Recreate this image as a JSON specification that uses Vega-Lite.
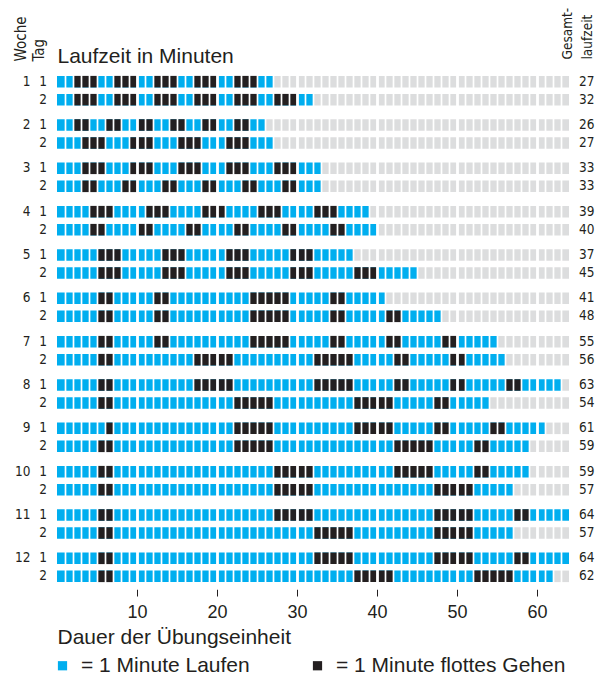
{
  "$schema": "https://vega.github.io/schema/vega-lite/v6.json",
  "width": 512,
  "height": 520,
  "autosize": "none",
  "padding": {"left": 57, "top": 69, "right": 45, "bottom": 111},
  "background": "white",
  "config": {
    "view": {"stroke": null},
    "font": "Liberation Sans",
    "text": {"font": "DejaVu Sans Condensed, Liberation Sans, sans-serif", "color": "#231F20"}
  },
  "datasets": {
    "totals": [
      {"w": 1, "t": 1, "total": 27}, {"w": 1, "t": 2, "total": 32},
      {"w": 2, "t": 1, "total": 26}, {"w": 2, "t": 2, "total": 27},
      {"w": 3, "t": 1, "total": 33}, {"w": 3, "t": 2, "total": 33},
      {"w": 4, "t": 1, "total": 39}, {"w": 4, "t": 2, "total": 40},
      {"w": 5, "t": 1, "total": 37}, {"w": 5, "t": 2, "total": 45},
      {"w": 6, "t": 1, "total": 41}, {"w": 6, "t": 2, "total": 48},
      {"w": 7, "t": 1, "total": 55}, {"w": 7, "t": 2, "total": 56},
      {"w": 8, "t": 1, "total": 63}, {"w": 8, "t": 2, "total": 54},
      {"w": 9, "t": 1, "total": 61}, {"w": 9, "t": 2, "total": 59},
      {"w": 10, "t": 1, "total": 59}, {"w": 10, "t": 2, "total": 57},
      {"w": 11, "t": 1, "total": 64}, {"w": 11, "t": 2, "total": 57},
      {"w": 12, "t": 1, "total": 64}, {"w": 12, "t": 2, "total": 62}
    ],
    "walks": [
      {"w": 1, "t": 1, "s": 2, "e": 5}, {"w": 1, "t": 1, "s": 7, "e": 10}, {"w": 1, "t": 1, "s": 12, "e": 15}, {"w": 1, "t": 1, "s": 17, "e": 20}, {"w": 1, "t": 1, "s": 22, "e": 25},
      {"w": 1, "t": 2, "s": 2, "e": 5}, {"w": 1, "t": 2, "s": 7, "e": 10}, {"w": 1, "t": 2, "s": 12, "e": 15}, {"w": 1, "t": 2, "s": 17, "e": 20}, {"w": 1, "t": 2, "s": 22, "e": 25}, {"w": 1, "t": 2, "s": 27, "e": 30},
      {"w": 2, "t": 1, "s": 2, "e": 4}, {"w": 2, "t": 1, "s": 6, "e": 8}, {"w": 2, "t": 1, "s": 10, "e": 12}, {"w": 2, "t": 1, "s": 14, "e": 16}, {"w": 2, "t": 1, "s": 18, "e": 20}, {"w": 2, "t": 1, "s": 22, "e": 24},
      {"w": 2, "t": 2, "s": 3, "e": 6}, {"w": 2, "t": 2, "s": 9, "e": 12}, {"w": 2, "t": 2, "s": 15, "e": 18}, {"w": 2, "t": 2, "s": 21, "e": 24},
      {"w": 3, "t": 1, "s": 3, "e": 6}, {"w": 3, "t": 1, "s": 9, "e": 12}, {"w": 3, "t": 1, "s": 15, "e": 18}, {"w": 3, "t": 1, "s": 21, "e": 24}, {"w": 3, "t": 1, "s": 27, "e": 30},
      {"w": 3, "t": 2, "s": 3, "e": 5}, {"w": 3, "t": 2, "s": 8, "e": 10}, {"w": 3, "t": 2, "s": 13, "e": 15}, {"w": 3, "t": 2, "s": 18, "e": 20}, {"w": 3, "t": 2, "s": 23, "e": 25}, {"w": 3, "t": 2, "s": 28, "e": 30},
      {"w": 4, "t": 1, "s": 4, "e": 7}, {"w": 4, "t": 1, "s": 11, "e": 14}, {"w": 4, "t": 1, "s": 18, "e": 21}, {"w": 4, "t": 1, "s": 25, "e": 28}, {"w": 4, "t": 1, "s": 32, "e": 35},
      {"w": 4, "t": 2, "s": 4, "e": 6}, {"w": 4, "t": 2, "s": 10, "e": 12}, {"w": 4, "t": 2, "s": 16, "e": 18}, {"w": 4, "t": 2, "s": 22, "e": 24}, {"w": 4, "t": 2, "s": 28, "e": 30}, {"w": 4, "t": 2, "s": 34, "e": 36},
      {"w": 5, "t": 1, "s": 5, "e": 8}, {"w": 5, "t": 1, "s": 13, "e": 16}, {"w": 5, "t": 1, "s": 21, "e": 24}, {"w": 5, "t": 1, "s": 29, "e": 32},
      {"w": 5, "t": 2, "s": 5, "e": 8}, {"w": 5, "t": 2, "s": 13, "e": 16}, {"w": 5, "t": 2, "s": 21, "e": 24}, {"w": 5, "t": 2, "s": 29, "e": 32}, {"w": 5, "t": 2, "s": 37, "e": 40},
      {"w": 6, "t": 1, "s": 5, "e": 7}, {"w": 6, "t": 1, "s": 12, "e": 14}, {"w": 6, "t": 1, "s": 24, "e": 29}, {"w": 6, "t": 1, "s": 34, "e": 36},
      {"w": 6, "t": 2, "s": 5, "e": 7}, {"w": 6, "t": 2, "s": 12, "e": 14}, {"w": 6, "t": 2, "s": 24, "e": 29}, {"w": 6, "t": 2, "s": 34, "e": 36}, {"w": 6, "t": 2, "s": 41, "e": 43},
      {"w": 7, "t": 1, "s": 5, "e": 7}, {"w": 7, "t": 1, "s": 12, "e": 14}, {"w": 7, "t": 1, "s": 24, "e": 29}, {"w": 7, "t": 1, "s": 34, "e": 36}, {"w": 7, "t": 1, "s": 41, "e": 43}, {"w": 7, "t": 1, "s": 48, "e": 50},
      {"w": 7, "t": 2, "s": 5, "e": 7}, {"w": 7, "t": 2, "s": 17, "e": 22}, {"w": 7, "t": 2, "s": 32, "e": 37}, {"w": 7, "t": 2, "s": 42, "e": 44}, {"w": 7, "t": 2, "s": 49, "e": 51},
      {"w": 8, "t": 1, "s": 5, "e": 7}, {"w": 8, "t": 1, "s": 17, "e": 22}, {"w": 8, "t": 1, "s": 32, "e": 37}, {"w": 8, "t": 1, "s": 42, "e": 44}, {"w": 8, "t": 1, "s": 49, "e": 51}, {"w": 8, "t": 1, "s": 56, "e": 58},
      {"w": 8, "t": 2, "s": 5, "e": 7}, {"w": 8, "t": 2, "s": 22, "e": 27}, {"w": 8, "t": 2, "s": 37, "e": 42}, {"w": 8, "t": 2, "s": 47, "e": 49},
      {"w": 9, "t": 1, "s": 6, "e": 7}, {"w": 9, "t": 1, "s": 22, "e": 27}, {"w": 9, "t": 1, "s": 37, "e": 42}, {"w": 9, "t": 1, "s": 47, "e": 49}, {"w": 9, "t": 1, "s": 54, "e": 56},
      {"w": 9, "t": 2, "s": 5, "e": 7}, {"w": 9, "t": 2, "s": 22, "e": 27}, {"w": 9, "t": 2, "s": 42, "e": 47}, {"w": 9, "t": 2, "s": 52, "e": 54},
      {"w": 10, "t": 1, "s": 5, "e": 7}, {"w": 10, "t": 1, "s": 27, "e": 32}, {"w": 10, "t": 1, "s": 42, "e": 47}, {"w": 10, "t": 1, "s": 52, "e": 54},
      {"w": 10, "t": 2, "s": 5, "e": 7}, {"w": 10, "t": 2, "s": 27, "e": 32}, {"w": 10, "t": 2, "s": 47, "e": 52},
      {"w": 11, "t": 1, "s": 5, "e": 7}, {"w": 11, "t": 1, "s": 27, "e": 32}, {"w": 11, "t": 1, "s": 47, "e": 52}, {"w": 11, "t": 1, "s": 57, "e": 59},
      {"w": 11, "t": 2, "s": 5, "e": 7}, {"w": 11, "t": 2, "s": 32, "e": 37}, {"w": 11, "t": 2, "s": 47, "e": 52},
      {"w": 12, "t": 1, "s": 5, "e": 7}, {"w": 12, "t": 1, "s": 32, "e": 37}, {"w": 12, "t": 1, "s": 47, "e": 52}, {"w": 12, "t": 1, "s": 57, "e": 59},
      {"w": 12, "t": 2, "s": 5, "e": 7}, {"w": 12, "t": 2, "s": 37, "e": 42}, {"w": 12, "t": 2, "s": 52, "e": 57}
    ]
  },
  "layer": [
    {
      "data": {"name": "totals"},
      "mark": {"type": "rect"},
      "encoding": {
        "x": {
          "field": "total", "type": "quantitative",
          "scale": {"domain": [0, 64], "nice": false, "zero": false},
          "axis": {
            "orient": "bottom", "values": [10, 20, 30, 40, 50, 60],
            "grid": false, "domain": false, "ticks": true, "tickSize": 7, "tickColor": "#231F20", "tickWidth": 1,
            "labelFontSize": 18, "labelColor": "#231F20", "labelPadding": 7, "labelFont": "Liberation Sans",
            "title": "Dauer der Übungseinheit", "titleFontSize": 21, "titleFontWeight": "normal", "titleColor": "#231F20",
            "titleAnchor": "start", "titleAlign": "left", "titleX": 0, "titleY": 54, "titleBaseline": "alphabetic"
          }
        },
        "x2": {"datum": 0},
        "y": {
          "field": "w", "type": "ordinal",
          "scale": {"domain": [1, 2, 3, 4, 5, 6, 7, 8, 9, 10, 11, 12], "paddingInner": 0, "paddingOuter": 0},
          "axis": {
            "orient": "left", "domain": false, "ticks": false, "tickSize": 0, "labelOffset": -9, "labelPadding": 27,
            "labelFont": "DejaVu Sans Condensed, Liberation Sans, sans-serif", "labelFontSize": 13.5, "labelColor": "#231F20",
            "title": ["Woche", "Tag"], "titleAngle": -90, "titleAlign": "left", "titleBaseline": "top",
            "titleX": -44, "titleY": -8, "titleFont": "DejaVu Sans Condensed, Liberation Sans, sans-serif", "titleFontSize": 15,
            "titleFontWeight": "normal", "titleColor": "#231F20", "titleLineHeight": 18
          }
        },
        "yOffset": {"field": "t", "type": "ordinal", "scale": {"domain": [1, 2], "paddingInner": 0.36, "paddingOuter": 0.383}},
        "color": {
          "datum": "Laufen", "type": "nominal",
          "scale": {"domain": ["Laufen", "Gehen"], "range": ["#00AEEF", "#231F20"]},
          "legend": {
            "orient": "none", "legendX": -5, "legendY": 586, "direction": "horizontal", "title": null,
            "symbolType": "square", "symbolSize": 85, "symbolStrokeWidth": 0, "labelFontSize": 21, "labelColor": "#231F20",
            "labelFont": "Liberation Sans", "columnPadding": 57, "labelOffset": 8, "labelLimit": 400,
            "labelExpr": "datum.value == 'Laufen' ? '= 1 Minute Laufen' : '= 1 Minute flottes Gehen'"
          }
        }
      }
    },
    {
      "data": {"name": "totals"},
      "mark": {"type": "rect", "color": "#DCDDDE"},
      "encoding": {
        "x": {"field": "total", "type": "quantitative", "axis": null},
        "x2": {"datum": 64},
        "y": {"field": "w", "type": "ordinal", "axis": null},
        "yOffset": {"field": "t", "type": "ordinal"}
      }
    },
    {
      "data": {"name": "walks"},
      "mark": {"type": "rect"},
      "encoding": {
        "x": {
          "field": "s", "type": "quantitative",
          "axis": {
            "orient": "top", "values": [1,2,3,4,5,6,7,8,9,10,11,12,13,14,15,16,17,18,19,20,21,22,23,24,25,26,27,28,29,30,31,32,33,34,35,36,37,38,39,40,41,42,43,44,45,46,47,48,49,50,51,52,53,54,55,56,57,58,59,60,61,62,63],
            "grid": true, "gridColor": "white", "gridOpacity": 1,
            "gridWidth": {"condition": {"test": "datum.value % 10 === 0", "value": 2.8}, "value": 1.7},
            "ticks": false, "labels": false, "domain": false, "zindex": 1,
            "title": "Laufzeit in Minuten", "titleFontSize": 21, "titleFontWeight": "normal", "titleColor": "#231F20",
            "titleAnchor": "start", "titleAlign": "left", "titleX": 0, "titleY": -7, "titleBaseline": "alphabetic"
          }
        },
        "x2": {"field": "e"},
        "y": {"field": "w", "type": "ordinal", "axis": null},
        "yOffset": {"field": "t", "type": "ordinal"},
        "color": {"datum": "Gehen", "type": "nominal"}
      }
    },
    {
      "data": {"name": "totals"},
      "mark": {"type": "text", "align": "left", "dx": 10, "fontSize": 13.5, "baseline": "middle"},
      "encoding": {
        "x": {"datum": 64, "type": "quantitative", "axis": null},
        "y": {
          "field": "w", "type": "ordinal",
          "axis": {
            "orient": "right", "labels": false, "ticks": false, "domain": false,
            "title": ["Gesamt-", "laufzeit"], "titleAngle": -90, "titleAlign": "left", "titleBaseline": "top",
            "titleX": -9, "titleY": -10, "titleFont": "DejaVu Sans Condensed, Liberation Sans, sans-serif", "titleFontSize": 13.5,
            "titleFontWeight": "normal", "titleColor": "#231F20", "titleLineHeight": 20
          }
        },
        "yOffset": {"field": "t", "type": "ordinal"},
        "text": {"field": "total"}
      }
    },
    {
      "data": {"name": "totals"},
      "mark": {"type": "text", "align": "right", "dx": -10, "fontSize": 13.5, "baseline": "middle"},
      "encoding": {
        "x": {"datum": 0, "type": "quantitative", "axis": null},
        "y": {"field": "w", "type": "ordinal", "axis": null},
        "yOffset": {"field": "t", "type": "ordinal"},
        "text": {"field": "t"}
      }
    }
  ],
  "resolve": {"axis": {"x": "independent", "y": "independent"}}
}
